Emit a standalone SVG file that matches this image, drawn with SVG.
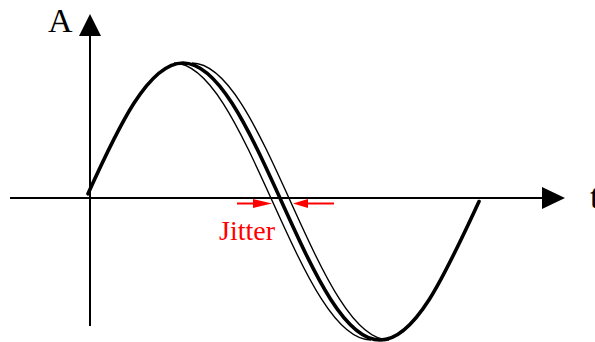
<svg xmlns="http://www.w3.org/2000/svg" width="595" height="342" viewBox="0 0 595 342">
<style>
.ax{stroke:#000;stroke-width:2;fill:none}
.head{fill:#000;stroke:none}
.thick{stroke:#000;stroke-width:3.6;fill:none;stroke-linecap:round}
.thin{stroke:#000;stroke-width:1.4;fill:none}
.red{stroke:#ff0000;stroke-width:2;fill:none}
.redhead{fill:#ff0000;stroke:none}
.lbl{font-family:"Liberation Serif","Times New Roman",serif;fill:#000}
</style>
<defs>
<path id="half" d="M183,63 C199.42,63 215.83,77.93 232.25,103.57 C248.67,129.21 265.08,165.24 281.5,201.5 C297.92,237.76 314.33,273.79 330.75,299.43 C347.17,325.07 363.58,340 380,340"/>
</defs>
<g id="connectors">
<g id="y-axis">
<line class="ax" x1="90" y1="326" x2="90" y2="34"/>
<polygon class="head" points="90,14 79,36 101,36"/>
</g>
<g id="x-axis">
<line class="ax" x1="10" y1="198" x2="544" y2="198"/>
<polygon class="head" points="565,198 542,187 542,209"/>
</g>
<g id="jitter-arrows">
<line class="red" x1="237" y1="203.5" x2="255" y2="203.5"/>
<polygon class="redhead" points="272,203.5 253,199 253,208"/>
<line class="red" x1="306" y1="203.5" x2="334" y2="203.5"/>
<polygon class="redhead" points="293,203.5 308,199 308,208"/>
</g>
</g>
<g id="curves">
<use href="#half" class="thin" transform="translate(-9,0)"/>
<use href="#half" class="thin" transform="translate(9,0)"/>
<path id="main-wave" class="thick" d="M88,193.77 C103.25,160.14 118.5,127.39 133.75,103.57 C150.17,77.93 166.58,63 183,63 C199.42,63 215.83,77.93 232.25,103.57 C248.67,129.21 265.08,165.24 281.5,201.5 C297.92,237.76 314.33,273.79 330.75,299.43 C347.17,325.07 363.58,340 380,340 C396.42,340 412.83,325.07 429.25,299.43 C445.83,273.53 462.42,237.02 479,201.5"/>
</g>
<g id="label-A"><text class="lbl" x="48" y="32" font-size="34">A</text></g>
<g id="label-t"><text class="lbl" x="590" y="208" font-size="34">t</text></g>
<g id="label-jitter"><text class="lbl" x="219" y="240" font-size="28" style="fill:#ff0000">Jitter</text></g>
</svg>
